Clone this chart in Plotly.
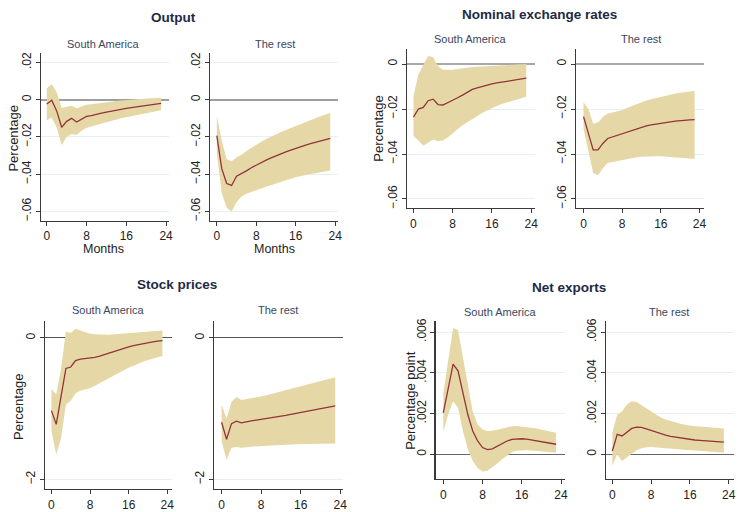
import plotly.graph_objects as go

W, H = 743, 512
months = list(range(24))

# ---------------- Output (percentage) ----------------
output_sa_mid = [-0.0023, -0.0003, -0.0060, -0.0148, -0.0116, -0.0100, -0.0120, -0.0104, -0.0090, -0.0086, -0.0078, -0.0072,
                 -0.0067, -0.0061, -0.0056, -0.0051, -0.0046, -0.0042, -0.0038, -0.0034, -0.0030, -0.0026, -0.0023, -0.0020]
output_sa_hi = [0.0060, 0.0084, 0.0040, -0.0045, -0.0038, -0.0032, -0.0046, -0.0036, -0.0027, -0.0024, -0.0020, -0.0017,
                -0.0014, -0.0011, -0.0007, -0.0004, -0.0001, 0.0001, 0.0003, 0.0005, 0.0007, 0.0008, 0.0009, 0.0011]
output_sa_lo = [-0.0110, -0.0095, -0.0150, -0.0243, -0.0200, -0.0184, -0.0190, -0.0166, -0.0150, -0.0143, -0.0135, -0.0127,
                -0.0120, -0.0113, -0.0106, -0.0099, -0.0093, -0.0087, -0.0081, -0.0076, -0.0071, -0.0066, -0.0061, -0.0056]
output_rest_mid = [-0.0193, -0.0370, -0.0450, -0.0460, -0.0410, -0.0398, -0.0382, -0.0365, -0.0350, -0.0337, -0.0324, -0.0312,
                   -0.0300, -0.0290, -0.0280, -0.0270, -0.0260, -0.0252, -0.0244, -0.0236, -0.0229, -0.0221, -0.0214, -0.0207]
output_rest_hi = [-0.0086, -0.0220, -0.0320, -0.0330, -0.0310, -0.0295, -0.0275, -0.0257, -0.0240, -0.0225, -0.0211, -0.0197,
                  -0.0184, -0.0173, -0.0162, -0.0151, -0.0140, -0.0129, -0.0118, -0.0108, -0.0098, -0.0089, -0.0080, -0.0071]
output_rest_lo = [-0.0290, -0.0500, -0.0580, -0.0600, -0.0550, -0.0520, -0.0505, -0.0495, -0.0488, -0.0477, -0.0467, -0.0458,
                  -0.0450, -0.0440, -0.0432, -0.0424, -0.0416, -0.0410, -0.0404, -0.0399, -0.0395, -0.0391, -0.0386, -0.0380]

# ---------------- Nominal exchange rates ----------------
ner_sa_mid = [-0.0236, -0.0200, -0.0193, -0.0163, -0.0156, -0.0180, -0.0182, -0.0172, -0.0162, -0.0150, -0.0138, -0.0125,
              -0.0113, -0.0106, -0.0099, -0.0093, -0.0088, -0.0084, -0.0080, -0.0076, -0.0072, -0.0069, -0.0066, -0.0063]
ner_sa_hi = [-0.0142, -0.0047, -0.0003, 0.0036, 0.0030, -0.0010, -0.0025, -0.0026, -0.0025, -0.0022, -0.0018, -0.0015,
             -0.0013, -0.0012, -0.0011, -0.0010, -0.0010, -0.0008, -0.0006, -0.0004, -0.0003, -0.0002, -0.0001, 0.0000]
ner_sa_lo = [-0.0320, -0.0340, -0.0363, -0.0350, -0.0336, -0.0343, -0.0340, -0.0327, -0.0310, -0.0290, -0.0272, -0.0257,
             -0.0244, -0.0231, -0.0218, -0.0206, -0.0196, -0.0187, -0.0178, -0.0170, -0.0163, -0.0157, -0.0151, -0.0145]
ner_rest_mid = [-0.0234, -0.0310, -0.0382, -0.0382, -0.0353, -0.0331, -0.0324, -0.0317, -0.0310, -0.0302, -0.0294, -0.0287,
                -0.0280, -0.0275, -0.0270, -0.0266, -0.0263, -0.0260, -0.0257, -0.0254, -0.0251, -0.0249, -0.0248, -0.0247]
ner_rest_hi = [-0.0170, -0.0200, -0.0266, -0.0260, -0.0236, -0.0220, -0.0215, -0.0210, -0.0204, -0.0195, -0.0186, -0.0177,
               -0.0168, -0.0162, -0.0157, -0.0151, -0.0146, -0.0141, -0.0136, -0.0131, -0.0127, -0.0124, -0.0122, -0.0120]
ner_rest_lo = [-0.0288, -0.0380, -0.0485, -0.0495, -0.0463, -0.0440, -0.0437, -0.0433, -0.0430, -0.0425, -0.0419, -0.0415,
               -0.0412, -0.0411, -0.0410, -0.0410, -0.0410, -0.0411, -0.0412, -0.0413, -0.0415, -0.0418, -0.0420, -0.0423]

# ---------------- Stock prices ----------------
stock_sa_mid = [-1.026, -1.22, -0.825, -0.43, -0.41, -0.32, -0.30, -0.295, -0.29, -0.275, -0.256, -0.233,
                -0.21, -0.188, -0.166, -0.146, -0.126, -0.109, -0.093, -0.078, -0.065, -0.054, -0.045, -0.037]
stock_sa_hi = [-0.72, -0.80, -0.43, 0.093, 0.07, 0.13, 0.107, 0.08, 0.06, 0.052, 0.047, 0.046,
               0.047, 0.052, 0.058, 0.066, 0.075, 0.080, 0.085, 0.089, 0.093, 0.097, 0.102, 0.107]
stock_sa_lo = [-1.315, -1.65, -1.41, -0.94, -0.886, -0.78, -0.746, -0.728, -0.709, -0.675, -0.640, -0.605,
               -0.57, -0.532, -0.494, -0.456, -0.42, -0.39, -0.363, -0.337, -0.312, -0.29, -0.272, -0.256]
stock_rest_mid = [-1.19, -1.43, -1.21, -1.175, -1.20, -1.18, -1.17, -1.16, -1.15, -1.139, -1.128, -1.117,
                  -1.105, -1.092, -1.078, -1.064, -1.05, -1.037, -1.024, -1.011, -0.998, -0.985, -0.972, -0.96]
stock_rest_hi = [-0.94, -1.137, -0.90, -0.835, -0.876, -0.865, -0.853, -0.841, -0.83, -0.811, -0.792, -0.774,
                 -0.755, -0.736, -0.717, -0.699, -0.68, -0.661, -0.643, -0.624, -0.606, -0.589, -0.572, -0.555]
stock_rest_lo = [-1.455, -1.72, -1.55, -1.54, -1.55, -1.545, -1.535, -1.53, -1.524, -1.52, -1.515, -1.512,
                 -1.51, -1.506, -1.503, -1.50, -1.497, -1.495, -1.493, -1.491, -1.49, -1.49, -1.49, -1.49]

# ---------------- Net exports (percentage point) ----------------
nx_sa_mid = [0.00203, 0.0032, 0.00442, 0.0041, 0.0031, 0.00195, 0.00114, 0.00065, 0.00033, 0.00023, 0.00026, 0.00039,
             0.00054, 0.00065, 0.00073, 0.00076, 0.00076, 0.00074, 0.0007, 0.00065, 0.0006, 0.00056, 0.00052, 0.00049]
nx_sa_hi = [0.0030, 0.0047, 0.0062, 0.0061, 0.0047, 0.0033, 0.0021, 0.00146, 0.00122, 0.00114, 0.00115, 0.0012,
            0.00127, 0.00133, 0.00138, 0.00139, 0.00137, 0.00134, 0.0013, 0.00126, 0.00122, 0.00116, 0.00111, 0.00106]
nx_sa_lo = [0.0011, 0.00195, 0.0026, 0.00228, 0.00114, 0.00024, -0.00033, -0.00068, -0.00085, -0.00081, -0.00065, -0.00045,
            -0.00024, -0.00005, 0.00011, 0.00017, 0.0002, 0.0002, 0.00019, 0.00018, 0.00016, 0.00013, 0.0001, 0.00008]
nx_rest_mid = [0.00016, 0.00098, 0.0009, 0.0011, 0.00127, 0.00133, 0.00132, 0.00125, 0.00117, 0.00108, 0.001, 0.00094,
               0.00088, 0.00084, 0.0008, 0.00076, 0.00073, 0.0007, 0.00068, 0.00067, 0.00065, 0.00063, 0.00061, 0.0006]
nx_rest_hi = [0.00106, 0.00195, 0.0021, 0.00244, 0.0026, 0.00257, 0.0024, 0.00225, 0.0021, 0.00195, 0.0018, 0.00171,
              0.00163, 0.00157, 0.0015, 0.00145, 0.0014, 0.00138, 0.00136, 0.00135, 0.00133, 0.00131, 0.00129, 0.00127]
nx_rest_lo = [-0.00057, 0.0, -0.00033, -0.00016, 0.00003, 0.0002, 0.0003, 0.00034, 0.00036, 0.00035, 0.00033, 0.00031,
              0.0003, 0.00027, 0.00024, 0.00022, 0.0002, 0.00018, 0.00016, 0.00014, 0.00013, 0.00011, 0.0001, 0.00008]

x_ticks = [0, 8, 16, 24]
x_tick_labels = ["0", "8", "16", "24"]
out_yticks = [0.02, 0, -0.02, -0.04, -0.06]
out_ylabels = [".02", "0", "\u2212.02", "\u2212.04", "\u2212.06"]
ner_yticks = [0, -0.02, -0.04, -0.06]
ner_ylabels = ["0", "\u2212.02", "\u2212.04", "\u2212.06"]
stock_yticks = [0, -2]
stock_ylabels = ["0", "\u22122"]
nx_yticks = [0, 0.002, 0.004, 0.006]
nx_ylabels = ["0", ".002", ".004", ".006"]

BAND = "#e5d8a6"
LINE = "#93333a"
FONT = "Liberation Sans Narrow, Arial Narrow, Liberation Sans, Arial, sans-serif"

fig = go.Figure()

def px_x(p):
    return p / W

def px_y(p):
    return 1 - p / H

panels = [
    (output_sa_mid, output_sa_hi, output_sa_lo, (41, 170), (52, 221), (-1.2, 24.6), (-0.065, 0.0248), out_yticks, out_ylabels, "#9e9e9e", 1.6),
    (output_rest_mid, output_rest_hi, output_rest_lo, (211, 340), (52, 221), (-1.41, 24.6), (-0.065, 0.0248), out_yticks, out_ylabels, "#9e9e9e", 1.6),
    (ner_sa_mid, ner_sa_hi, ner_sa_lo, (409, 538), (47, 208), (-1.36, 24.8), (-0.064, 0.0069), ner_yticks, ner_ylabels, "#a8a8a8", 1.6),
    (ner_rest_mid, ner_rest_hi, ner_rest_lo, (579, 708), (47, 208), (-1.58, 24.98), (-0.064, 0.0069), ner_yticks, ner_ylabels, "#a8a8a8", 1.6),
    (stock_sa_mid, stock_sa_hi, stock_sa_lo, (45, 173), (322, 492), (-1.38, 25.0), (-2.136, 0.242), stock_yticks, stock_ylabels, "#555555", 1.0),
    (stock_rest_mid, stock_rest_hi, stock_rest_lo, (215, 345), (322, 492), (-1.57, 24.6), (-2.136, 0.242), stock_yticks, stock_ylabels, "#555555", 1.0),
    (nx_sa_mid, nx_sa_hi, nx_sa_lo, (438, 568), (322, 482), (-1.56, 24.8), (-0.00123, 0.00655), nx_yticks, nx_ylabels, "#666666", 1.0),
    (nx_rest_mid, nx_rest_hi, nx_rest_lo, (609, 738), (322, 482), (-1.37, 25.1), (-0.00123, 0.00655), nx_yticks, nx_ylabels, "#666666", 1.0),
]

layout_axes = {}
for i, (mid, hi, lo, xd, yd, xr, yr, ytv, ytt, zc, zw) in enumerate(panels):
    n = i + 1
    xa = "x" if n == 1 else f"x{n}"
    ya = "y" if n == 1 else f"y{n}"
    fig.add_trace(go.Scatter(
        x=months + months[::-1], y=hi + lo[::-1], xaxis=xa, yaxis=ya,
        fill="toself", fillcolor=BAND, line=dict(width=0), mode="lines",
        hoverinfo="skip", showlegend=False))
    fig.add_trace(go.Scatter(
        x=months, y=mid, xaxis=xa, yaxis=ya, mode="lines",
        line=dict(color=LINE, width=1.3), showlegend=False))
    xkey = "xaxis" if n == 1 else f"xaxis{n}"
    ykey = "yaxis" if n == 1 else f"yaxis{n}"
    layout_axes[xkey] = dict(
        domain=[px_x(xd[0]), px_x(xd[1])], range=list(xr), anchor=ya,
        tickvals=x_ticks, ticktext=x_tick_labels, showgrid=False, zeroline=False,
        showline=True, linecolor="#3a3a3a", linewidth=1.2, ticks="outside", ticklen=4,
        tickcolor="#3a3a3a", tickfont=dict(size=12, color="#222", family=FONT))
    layout_axes[ykey] = dict(
        domain=[px_y(yd[1]), px_y(yd[0])], range=list(yr), anchor=xa,
        tickvals=ytv, ticktext=ytt, tickangle=-90, showgrid=True, gridcolor="#e6eff1", gridwidth=1,
        zeroline=True, zerolinecolor=zc, zerolinewidth=zw,
        showline=True, linecolor="#3a3a3a", linewidth=1.2, ticks="outside", ticklen=4,
        tickcolor="#3a3a3a", tickfont=dict(size=12, color="#222", family=FONT))

ann = []
def add_text(x, y, text, size, color="#1e2a44", bold=False, angle=0):
    ann.append(dict(x=px_x(x), y=px_y(y), xref="paper", yref="paper", text=(f"<b>{text}</b>" if bold else text),
                    showarrow=False, textangle=angle, xanchor="center", yanchor="middle",
                    font=dict(size=size, color=color, family=FONT)))

# titles
add_text(174, 16, "Output", 13.5, bold=True)
add_text(542, 13, "Nominal exchange rates", 13.5, bold=True)
add_text(178, 285, "Stock prices", 13.5, bold=True)
add_text(572, 288, "Net exports", 13.5, bold=True)
# subtitles
sub_c = "#3a4660"
add_text(104, 42, "South America", 11, sub_c)
add_text(276, 42, "The rest", 11, sub_c)
add_text(473, 37, "South America", 11, sub_c)
add_text(644, 37, "The rest", 11, sub_c)
add_text(109, 311, "South America", 11, sub_c)
add_text(280, 311, "The rest", 11, sub_c)
add_text(503, 313, "South America", 11, sub_c)
add_text(673, 313, "The rest", 11, sub_c)
# y axis titles
add_text(14, 137, "Percentage", 13, "#222", angle=-90)
add_text(381, 127, "Percentage", 13, "#222", angle=-90)
add_text(18, 408, "Percentage", 13, "#222", angle=-90)
add_text(412, 402, "Percentage point", 13, "#222", angle=-90)
# x axis titles
add_text(104, 249, "Months", 12.5, "#222")
add_text(276, 249, "Months", 12.5, "#222")

fig.update_layout(
    width=W, height=H, margin=dict(l=0, r=0, t=0, b=0),
    paper_bgcolor="white", plot_bgcolor="white", showlegend=False,
    hovermode=False, annotations=ann, **layout_axes)

fig.write_html("out.html", config={"displayModeBar": False, "staticPlot": True},
               post_script="document.body.style.margin='0px';document.body.style.padding='0px';document.body.style.overflow='hidden';")
